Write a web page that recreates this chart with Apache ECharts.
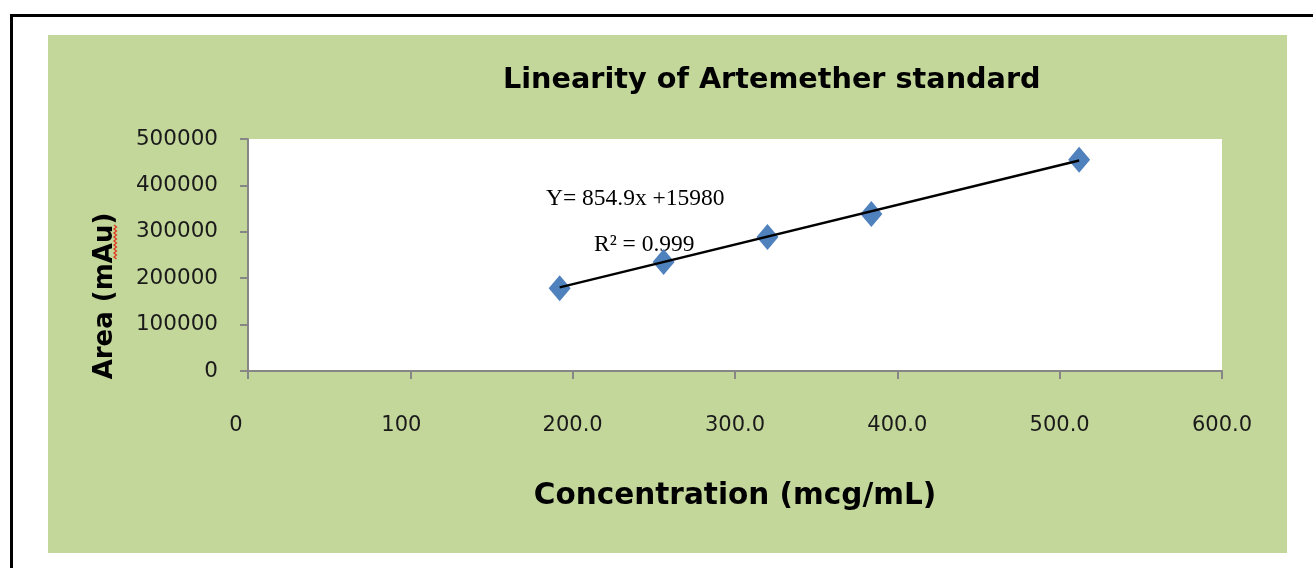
<!DOCTYPE html>
<html>
<head>
<meta charset="utf-8">
<title>Linearity of Artemether standard</title>
<script src="https://cdn.jsdelivr.net/npm/echarts@6/dist/echarts.min.js"></script>
<style>
  html, body { margin: 0; padding: 0; background: #fff; }
  body { width: 1313px; height: 568px; position: relative; overflow: hidden; }
  .frame {
    position: absolute; left: 10px; top: 14px; width: 1320px; height: 580px;
    border-left: 3px solid #000; border-top: 3px solid #000;
  }
  #chart {
    position: absolute; left: 48px; top: 35px; width: 1239px; height: 518px;
    background: #c4d79b;
  }
</style>
</head>
<body>
<div class="frame"></div>
<div id="chart"></div>
<script>
// concentration (mcg/mL) and peak area (mAu)
const concentration = [192, 256, 320, 384, 512];
const area = [178500, 235000, 289000, 338500, 455500];

// Excel linear trendline, ends
const trendX = [192, 512];
const trendY = [180100, 453700];

const xTickLabels = ['0', '100', '200.0', '300.0', '400.0', '500.0', '600.0'];
const yTickLabels = ['0', '100000', '200000', '300000', '400000', '500000'];

const equationText = 'Y= 854.9x +15980';
const r2Text = 'R\u00B2 = 0.999';

const sans = 'DejaVu Sans';
const labelStyle = { fontFamily: sans, fontSize: 21, color: '#1a1a1a' };

const chart = echarts.init(document.getElementById('chart'));

// red spell-check squiggle under "mAu"
const squiggle = [];
for (let y = 190; y <= 224; y += 2) squiggle.push([(y / 2) % 2 ? 66 : 68.5, y]);

chart.setOption({
  backgroundColor: '#c4d79b',
  animation: false,
  title: {
    text: 'Linearity of Artemether standard',
    left: 450,
    top: 26,
    textStyle: { fontFamily: sans, fontSize: 28.7, fontWeight: 'bold', color: '#000' }
  },
  grid: {
    left: 200, top: 104, width: 974, height: 232,
    show: true, backgroundColor: '#fff', borderWidth: 0
  },
  xAxis: {
    type: 'value',
    min: 0, max: 600, interval: 100,
    name: 'Concentration (mcg/mL)',
    nameLocation: 'middle',
    nameGap: 110,
    nameTextStyle: { fontFamily: sans, fontSize: 29.5, fontWeight: 'bold', color: '#000' },
    axisLine: { onZero: false, lineStyle: { color: '#868686', width: 2 } },
    axisTick: { show: true, length: 8, lineStyle: { color: '#868686', width: 2 } },
    axisLabel: {
      margin: 44,
      ...labelStyle,
      formatter: (v) => {
        const i = Math.round(v / 100);
        return i === 0 ? '{a|' + xTickLabels[i] + '}'
          : i === 1 ? '{b|' + xTickLabels[i] + '}'
          : xTickLabels[i];
      },
      rich: {
        a: { ...labelStyle, padding: [0, 24, 0, 0] },
        b: { ...labelStyle, padding: [0, 18, 0, 0] }
      }
    },
    splitLine: { show: false }
  },
  yAxis: {
    type: 'value',
    min: 0, max: 500000, interval: 100000,
    name: 'Area (mAu)',
    nameLocation: 'middle',
    nameGap: 130,
    nameTextStyle: {
      fontFamily: sans, fontSize: 26, fontWeight: 'bold', color: '#000',
      padding: [0, 82, 0, 0]
    },
    axisLine: { show: true, onZero: false, lineStyle: { color: '#868686', width: 2 } },
    axisTick: { show: true, length: 8, lineStyle: { color: '#868686', width: 2 } },
    axisLabel: {
      margin: 30,
      fontFamily: sans, fontSize: 21.5, color: '#1a1a1a',
      formatter: (v) => yTickLabels[Math.round(v / 100000)]
    },
    splitLine: { show: false }
  },
  graphic: [
    {
      type: 'text', left: 498, top: 152,
      style: { text: equationText, font: '23.5px "Liberation Serif"', fill: '#000' }
    },
    {
      type: 'text', left: 546, top: 198,
      style: { text: r2Text, font: '23.5px "Liberation Serif"', fill: '#000' }
    },
    {
      type: 'polyline',
      shape: { points: squiggle },
      style: { stroke: '#e03a1e', lineWidth: 1.3, fill: null }
    }
  ],
  series: [
    {
      type: 'scatter',
      data: concentration.map((c, i) => [c, area[i]]),
      symbol: 'diamond',
      symbolSize: [22, 26],
      itemStyle: { color: '#4f81bd', opacity: 1 },
      z: 2
    },
    {
      type: 'line',
      data: trendX.map((c, i) => [c, trendY[i]]),
      showSymbol: false,
      lineStyle: { color: '#000', width: 2.4 },
      z: 3
    }
  ]
});
</script>
</body>
</html>
